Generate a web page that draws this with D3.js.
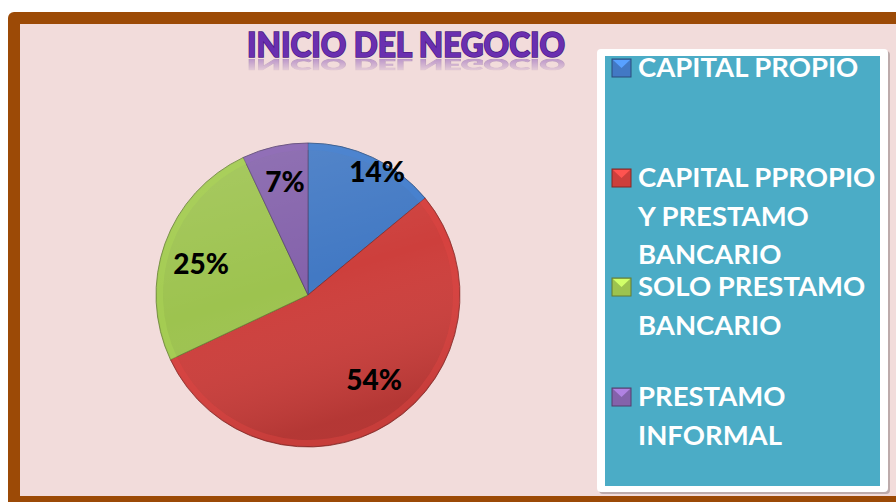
<!DOCTYPE html>
<html lang="es">
<head>
  <meta charset="UTF-8">
  <title>Inicio del negocio</title>
  <script src="https://cdn.jsdelivr.net/npm/d3@7"></script>
  <style>
    html, body { margin: 0; padding: 0; background: #fff; }
    svg { display: block; font-family: Lato, "Open Sans", sans-serif; }
  </style>
</head>
<body>
<div id="chart"></div>
<script>
  // data
  var categories = ["CAPITAL PROPIO", "CAPITAL PPROPIO Y PRESTAMO BANCARIO", "SOLO PRESTAMO BANCARIO", "PRESTAMO INFORMAL"];
  var values = [14, 54, 25, 7];
  var legendLines = [["CAPITAL PROPIO"], ["CAPITAL PPROPIO", "Y PRESTAMO", "BANCARIO"], ["SOLO PRESTAMO", "BANCARIO"], ["PRESTAMO", "INFORMAL"]];
  var colors = ["#4279c4", "#cd3f3c", "#9dc34f", "#8462ab"];
  var title = "INICIO DEL NEGOCIO";

  var W = 896, H = 502;
  var cx = 308, cy = 295, r = 152;

  var svg = d3.select("#chart").append("svg")
    .attr("width", W)
    .attr("height", H);

  var defs = svg.append("defs");

  // frame
  svg.append("rect")
    .attr("x", 8).attr("y", 12)
    .attr("width", W + 20).attr("height", H)
    .attr("rx", 6)
    .attr("fill", "#9c4a06");
  svg.append("rect")
    .attr("x", 20).attr("y", 24)
    .attr("width", W).attr("height", 472)
    .attr("fill", "#f2dcdb");

  // title, plus a faded mirror of it drawn with <use>
  var mg = defs.append("linearGradient").attr("id", "fadeGrad")
    .attr("gradientUnits", "userSpaceOnUse")
    .attr("x1", 0).attr("y1", 59).attr("x2", 0).attr("y2", 74);
  mg.append("stop").attr("offset", "0%").attr("stop-color", "#fff").attr("stop-opacity", 0.4);
  mg.append("stop").attr("offset", "100%").attr("stop-color", "#fff").attr("stop-opacity", 0);
  defs.append("mask").attr("id", "fadeMask")
    .attr("maskUnits", "userSpaceOnUse")
    .attr("x", 0).attr("y", 0).attr("width", W).attr("height", H)
    .append("rect").attr("x", 200).attr("y", 59).attr("width", 420).attr("height", 18)
    .attr("fill", "url(#fadeGrad)");

  svg.append("text")
    .attr("id", "titleText")
    .attr("x", 406).attr("y", 57)
    .attr("text-anchor", "middle")
    .attr("font-size", 34).attr("font-weight", 900)
    .attr("textLength", 318).attr("lengthAdjust", "spacingAndGlyphs")
    .attr("fill", "#6a2fb0")
    .attr("stroke", "#4b1c82").attr("stroke-width", 1.6)
    .attr("paint-order", "stroke")
    .text(title);
  svg.append("g").attr("mask", "url(#fadeMask)")
    .append("use")
    .attr("href", "#titleText")
    .attr("transform", "translate(0,59) scale(1,-0.45) translate(0,-57)");

  // pie
  var pie = d3.pie().sort(null).value(function(d) { return d; });
  var arc = d3.arc().innerRadius(0).outerRadius(r);
  var arcs = pie(values);

  var shade = defs.append("linearGradient").attr("id", "shade")
    .attr("x1", 0).attr("y1", 0).attr("x2", 0.3).attr("y2", 1);
  shade.append("stop").attr("offset", "0%").attr("stop-color", "#fff").attr("stop-opacity", 0.12);
  shade.append("stop").attr("offset", "55%").attr("stop-color", "#fff").attr("stop-opacity", 0);
  shade.append("stop").attr("offset", "100%").attr("stop-color", "#000").attr("stop-opacity", 0.12);

  var pg = svg.append("g").attr("transform", "translate(" + cx + "," + cy + ")");

  pg.selectAll("path.slice")
    .data(arcs)
    .enter().append("path")
    .attr("class", "slice")
    .attr("d", arc)
    .attr("fill", function(d, i) { return colors[i]; })
    .attr("stroke", function(d, i) { return d3.color(colors[i]).darker(1.2); })
    .attr("stroke-width", 0.8);

  pg.append("circle")
    .attr("r", r)
    .attr("fill", "url(#shade)")
    .attr("pointer-events", "none");

  // bevel rim
  pg.selectAll("path.rim")
    .data(arcs)
    .enter().append("path")
    .attr("class", "rim")
    .attr("d", d3.arc().innerRadius(r - 7).outerRadius(r - 1))
    .attr("fill", function(d, i) { return d3.color(colors[i]).brighter(0.3); })
    .attr("opacity", 0.4);

  // label offsets from the centre, in slice order
  var labelPos = [[69, -124], [66, 84], [-107, -32], [-23, -114]];
  pg.selectAll("text.pct")
    .data(arcs)
    .enter().append("text")
    .attr("class", "pct")
    .attr("x", function(d, i) { return labelPos[i][0]; })
    .attr("y", function(d, i) { return labelPos[i][1]; })
    .attr("text-anchor", "middle")
    .attr("dominant-baseline", "central")
    .attr("font-size", 28).attr("font-weight", 900)
    .attr("fill", "#000")
    .text(function(d) { return d.data + "%"; });

  // legend
  svg.append("rect")
    .attr("x", 599).attr("y", 51)
    .attr("width", 291).attr("height", 443)
    .attr("rx", 4)
    .attr("fill", "#9a8a8a").attr("opacity", 0.6);
  svg.append("rect")
    .attr("x", 597).attr("y", 49)
    .attr("width", 291).attr("height", 443)
    .attr("rx", 4)
    .attr("fill", "#fff");
  svg.append("rect")
    .attr("x", 605).attr("y", 56)
    .attr("width", 275).attr("height", 430)
    .attr("fill", "#4bacc6");

  var entryY = [77, 187, 296, 406];
  var lineH = 38.5;
  var items = svg.append("g").selectAll("g.item")
    .data(categories)
    .enter().append("g")
    .attr("class", "item")
    .attr("transform", function(d, i) { return "translate(612," + entryY[i] + ")"; });

  items.append("rect")
    .attr("x", 0).attr("y", -18)
    .attr("width", 19).attr("height", 18)
    .attr("fill", function(d, i) { return colors[i]; })
    .attr("stroke", function(d, i) { return d3.color(colors[i]).darker(1.3); })
    .attr("stroke-width", 1);
  items.append("path")
    .attr("d", "M1,-17 L18,-17 L9.5,-9 Z")
    .attr("fill", function(d, i) { return d3.color(colors[i]).brighter(0.8); });

  items.each(function(d, i) {
    var t = d3.select(this).append("text")
      .attr("x", 26).attr("y", 0)
      .attr("font-size", 27.5).attr("font-weight", 700)
      .attr("fill", "#fff");
    legendLines[i].forEach(function(line, j) {
      t.append("tspan")
        .attr("x", 26)
        .attr("y", j * lineH)
        .text(line);
    });
  });
</script>
</body>
</html>
